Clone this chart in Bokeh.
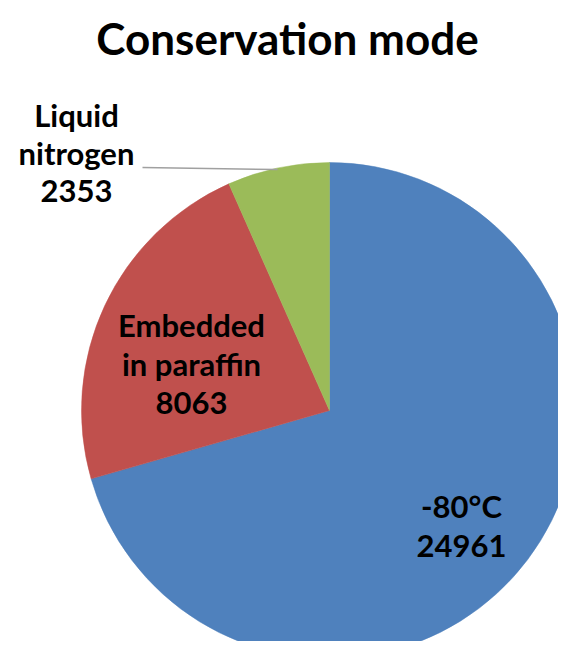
import numpy as np
from bokeh.plotting import figure
from bokeh.models import Range1d, ColumnDataSource
from bokeh.core.properties import value
from bokeh.embed import file_html
from bokeh.resources import INLINE

# ---- data ----
title_text = "Conservation mode"
categories = ["-80°C", "Embedded in paraffin", "Liquid nitrogen"]
values = [24961, 8063, 2353]
colors = ["#4F81BD", "#C0504D", "#9BBB59"]
label_lines = [["-80°C"], ["Embedded", "in paraffin"], ["Liquid", "nitrogen"]]

W, H = 558, 641
PAGE_H = 657  # convert screen y to data y (y up)

def sy(y):
    return PAGE_H - y

p = figure(width=W, height=H, output_backend="svg", toolbar_location=None,
           x_range=Range1d(0, W), y_range=Range1d(PAGE_H - H, PAGE_H),
           min_border=0)
p.axis.visible = False
p.grid.visible = False
p.outline_line_color = None
p.background_fill_color = "white"
p.border_fill_color = "white"

vals = np.array(values, dtype=float)
total = vals.sum()
cum = np.concatenate([[0], np.cumsum(vals)])
start = np.pi / 2 - 2 * np.pi * cum[:-1] / total
end = np.pi / 2 - 2 * np.pi * cum[1:] / total

cx, cy, r = 329, sy(410), 248
src = ColumnDataSource(dict(start=start, end=end, color=colors))
p.wedge(x=cx, y=cy, radius=r, start_angle="start", end_angle="end",
        direction="clock", fill_color="color", line_color="color",
        line_width=0.5, source=src)

font = value("Lato")

# title
p.text(x=[287], y=[sy(37)], text=[title_text], text_font=font,
       text_font_style="bold", text_font_size="44px", text_align="center",
       text_baseline="alphabetic", text_color="black")

# label positions (screen coords: center x, first baseline y, line spacing)
label_pos = [(461, 505, 40), (191, 324, 39), (76, 114, 38)]
for lines, v, (lx, ly, dy) in zip(label_lines, values, label_pos):
    all_lines = lines + [str(v)]
    xs = [lx] * len(all_lines)
    ys = [sy(ly + i * dy) for i in range(len(all_lines))]
    p.text(x=xs, y=ys, text=all_lines, text_font=font, text_font_style="bold",
           text_font_size="31px", text_align="center",
           text_baseline="alphabetic", text_color="black")

# leader line for small slice
p.line(x=[142, 277], y=[sy(167), sy(169)], line_color="#a0a0a0", line_width=1.5)

open("out.html", "w").write(file_html(p, INLINE))
